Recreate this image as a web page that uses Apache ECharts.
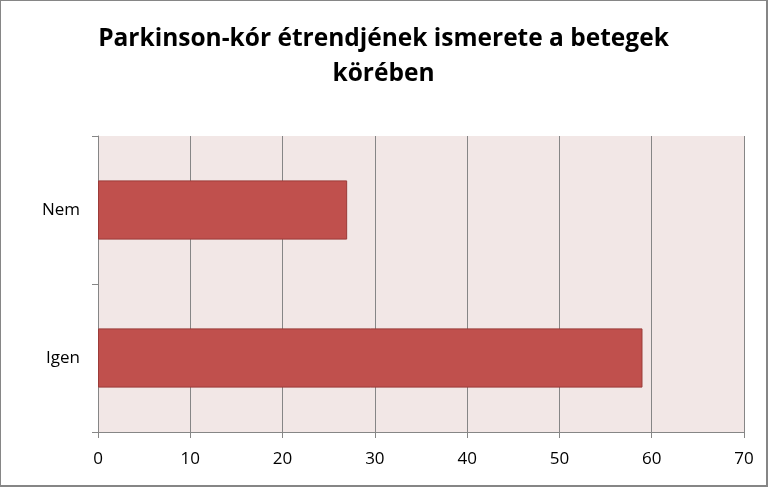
<!DOCTYPE html>
<html>
<head>
<meta charset="utf-8">
<script src="https://cdn.jsdelivr.net/npm/echarts@6/dist/echarts.min.js"></script>
<style>
  html, body { margin: 0; padding: 0; background: #fff; }
  #chart { width: 768px; height: 487px; box-sizing: border-box; border: 1px solid #868686; border-right-width: 2px; border-bottom-width: 2px; }
</style>
</head>
<body>
<div id="chart"></div>
<script>
// adatok
var categories = ['Igen', 'Nem'];
var values = [59, 27];
var xTicks = { min: 0, max: 70, interval: 10 };

var myChart = echarts.init(document.getElementById('chart'));

option = {
    animation: false,
    title: {
        text: 'Parkinson-kór étrendjének ismerete a betegek\nkörében',
        left: 'center',
        top: 16,
        textStyle: {
            fontFamily: 'Open Sans',
            fontWeight: 'bold',
            fontSize: 24.5,
            lineHeight: 35,
            color: '#000'
        }
    },
    grid: {
        left: 97,
        right: 22,
        top: 135,
        bottom: 53,
        show: true,
        backgroundColor: '#F2E7E6',
        borderWidth: 0
    },
    xAxis: {
        type: 'value',
        min: xTicks.min,
        max: xTicks.max,
        interval: xTicks.interval,
        axisLine: { show: true, lineStyle: { color: '#868686' } },
        axisTick: { show: true, length: 6, lineStyle: { color: '#868686' } },
        splitLine: { show: true, lineStyle: { color: '#868686', width: 1 } },
        axisLabel: { fontFamily: 'Open Sans', fontSize: 17, color: '#000', margin: 19 }
    },
    yAxis: {
        type: 'category',
        data: categories,
        axisLine: { show: true, lineStyle: { color: '#868686' } },
        axisTick: { show: true, length: 6, lineStyle: { color: '#868686' } },
        axisLabel: { fontFamily: 'Open Sans', fontSize: 17, color: '#000', margin: 18 }
    },
    series: [
        {
            type: 'bar',
            data: values,
            barWidth: '40%',
            itemStyle: { color: '#C0504D', borderColor: '#9B3B38', borderWidth: 1 }
        }
    ]
};

myChart.setOption(option);
</script>
</body>
</html>
